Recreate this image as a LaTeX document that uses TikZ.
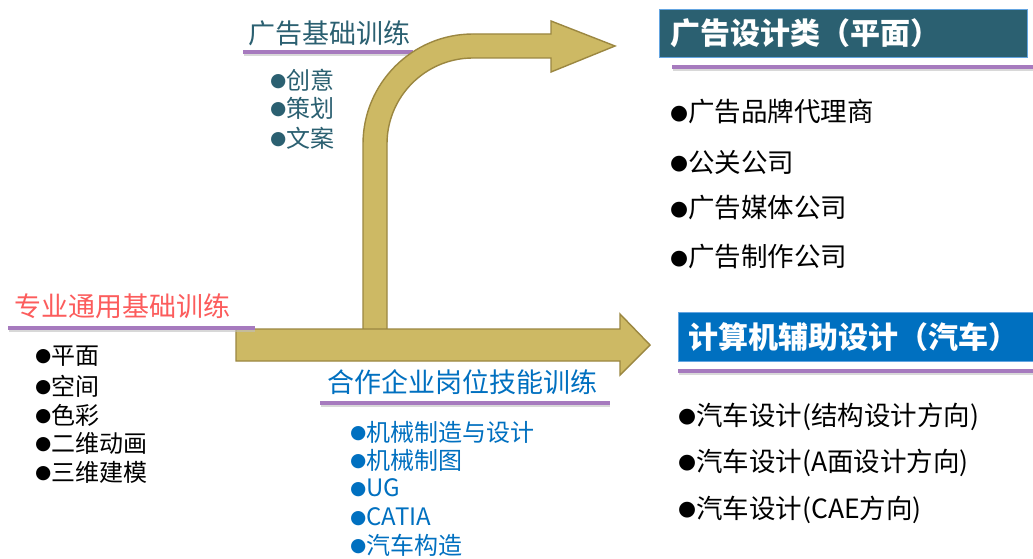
\documentclass[tikz,border=0pt]{standalone}
\usepackage{fontspec}
\setmainfont{Noto Sans CJK SC}
\newfontfamily\sym[Scale=0.78]{DejaVu Sans}
\definecolor{arrowfill}{RGB}{205,185,100}
\definecolor{arrowline}{RGB}{155,135,65}
\definecolor{ulpurple}{RGB}{166,122,190}
\definecolor{teal}{RGB}{43,96,113}
\definecolor{myblue}{RGB}{0,112,192}
\definecolor{myred}{RGB}{252,92,92}
\definecolor{boxedge}{RGB}{100,165,225}
\newcommand{\bul}{\raisebox{0.1em}{\sym ●}}
\begin{document}
\begin{tikzpicture}[x=1pt,y=-1pt,
  arr/.style={fill=arrowfill, draw=arrowline, line width=1.4pt, line join=miter},
  ul/.style={draw=ulpurple, line width=4pt},
  ulshadow/.style={draw=black!25, line width=4pt, opacity=0.6},
  lbl/.style={inner sep=0pt, anchor=west},
  head/.style={lbl, font=\fontsize{27pt}{27pt}\selectfont},
  item/.style={lbl, font=\fontsize{24pt}{24pt}\selectfont},
  ritem/.style={lbl, font=\fontsize{26.5pt}{26.5pt}\selectfont, text=black},
  boxstyle/.style={inner sep=0pt, anchor=north west, line width=0.8pt, draw=boxedge},
  boxtext/.style={lbl, text=white, font=\fontsize{30pt}{30pt}\selectfont\bfseries}]
\useasboundingbox (0,0) rectangle (1033,559);
\fill[white] (0,0) rectangle (1033,559);

% underline behind curved arrow
\draw[ulshadow] (244,54) -- (413,54);
\draw[ul] (243,52) -- (413,52);

% arrows
\draw[arr] (363,345) -- (363,144) .. controls (363,83.25) and (412.25,34) .. (473,34)
  -- (551,34) -- (551,21) -- (615,46) -- (551,72) -- (551,58) -- (473,58)
  .. controls (425.5,58) and (387,96.5) .. (387,144) -- (387,345) -- cycle;
\draw[arr] (236,329) -- (620,329) -- (620,314) -- (650,345) -- (620,375) -- (620,361) -- (236,361) -- cycle;

% other underlines
\draw[ulshadow] (9,330) -- (255,330);
\draw[ul] (8,328) -- (255,328);
\draw[ulshadow] (321,405) -- (610,405);
\draw[ul] (320,403) -- (610,403);
\draw[ulshadow] (673,69) -- (1033,69);
\draw[ul] (672,67) -- (1033,67);
\draw[ulshadow] (679,373) -- (1033,373);
\draw[ul] (678,371) -- (1033,371);

% left block
\node[head, text=myred] (h1) at (14,306) {专业通用基础训练};
\node[item] (l1) at (35,356) {\bul{}平面};
\node[item] (l2) at (35,386) {\bul{}空间};
\node[item] (l3) at (35,415) {\bul{}色彩};
\node[item] (l4) at (35,443) {\bul{}二维动画};
\node[item] (l5) at (35,472) {\bul{}三维建模};

% top block
\node[head, text=teal] (h2) at (248,33) {广告基础训练};
\node[item, text=teal] (t1) at (270,80) {\bul{}创意};
\node[item, text=teal] (t2) at (270,108) {\bul{}策划};
\node[item, text=teal] (t3) at (270,138) {\bul{}文案};

% bottom block
\node[head, text=myblue] (h3) at (327,382) {合作企业岗位技能训练};
\node[item, text=myblue] (b1) at (350,432) {\bul{}机械制造与设计};
\node[item, text=myblue] (b2) at (350,460) {\bul{}机械制图};
\node[item, text=myblue] (b3) at (350,488) {\bul{}UG};
\node[item, text=myblue] (b4) at (350,517) {\bul{}CATIA};
\node[item, text=myblue] (b5) at (350,545) {\bul{}汽车构造};

% right top box
\node[boxstyle, fill=teal, minimum width=368pt, minimum height=48pt] (box1) at (659,9) {};
\node[boxtext] (bt1) at (670,33) {广告设计类（平面）};
\node[ritem] (r1) at (670,112) {\bul{}广告品牌代理商};
\node[ritem] (r2) at (670,162) {\bul{}公关公司};
\node[ritem] (r3) at (670,208) {\bul{}广告媒体公司};
\node[ritem] (r4) at (670,257) {\bul{}广告制作公司};

% right bottom box
\node[boxstyle, fill=myblue, minimum width=360pt, minimum height=49pt] (box2) at (678,312) {};
\node[boxtext] (bt2) at (688,337) {计算机辅助设计（汽车）};
\node[ritem] (s1) at (678,417) {\bul{}汽车设计(结构设计方向)};
\node[ritem] (s2) at (678,463) {\bul{}汽车设计(A面设计方向)};
\node[ritem] (s3) at (678,510) {\bul{}汽车设计(CAE方向)};
\end{tikzpicture}
\end{document}
